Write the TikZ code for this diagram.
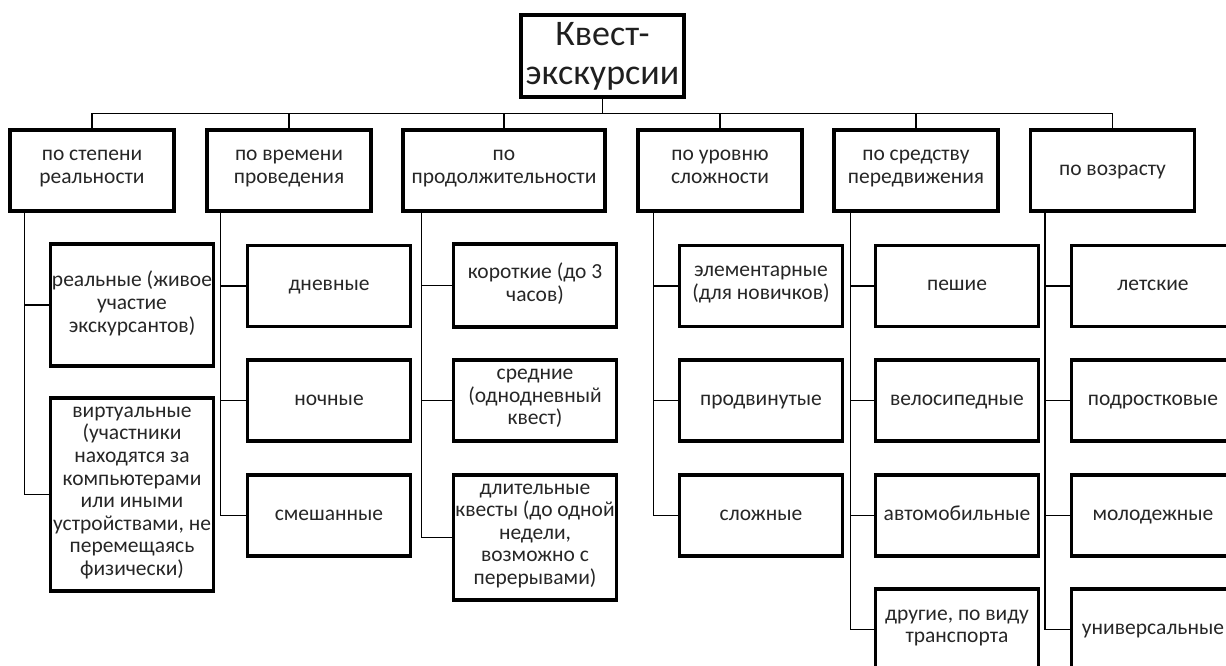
\documentclass[tikz,border=0pt]{standalone}
\usepackage{fontspec}
\setmainfont{Carlito}
\begin{document}
\begin{tikzpicture}[x=1pt, y=-1pt,
		q/.style = {rectangle, draw=black, line width=3.2pt, minimum width=163, minimum height=82, inner sep=1pt, align=center, text=black!88, font=\fontsize{36}{39}\selectfont},
		g/.style = {rectangle, draw=black, line width=3.2pt, minimum width=164, minimum height=81, inner sep=1pt, align=center, text=black!85, font=\fontsize{21.5}{23}\selectfont, execute at begin node=\strut, execute at end node=\strut},
		e/.style = {rectangle, draw=black, line width=3.2pt, minimum width=163, minimum height=81, inner sep=1pt, align=center, text=black!85, font=\fontsize{21.5}{22.6}\selectfont, execute at begin node=\strut, execute at end node=\strut},
		w/.style = {draw=black, line width=1.8pt}
		]
		\clip (0,0) rectangle (1226,666);
		
		%Nodes
		\node[q]	(kv)	at (602.5, 56)		{Квест-\\экскурсии};
		
		\node[g]	(p1)	at (92, 170.5)		{по степени\\реальности};
		\node[g]	(p2)	at (289, 170.5)		{по времени\\проведения};
		\node[g, minimum width=202]	(p3)	at (504, 170.5)	{по\\продолжительности};
		\node[g]	(p4)	at (720, 170.5)		{по уровню\\сложности};
		\node[g]	(p5)	at (916, 170.5)		{по средству\\передвижения};
		\node[g]	(p6)	at (1112.5, 170.5)	{по возрасту};
		
		\node[e, minimum height=122]	(v11)	at (132, 305)	{реальные (живое\\участие\\экскурсантов)};
		\node[e, minimum height=193]	(v12)	at (132, 494.5)	{виртуальные\\(участники\\находятся за\\компьютерами\\или иными\\устройствами, не\\перемещаясь\\физически)};
		
		\node[e]	(v21)	at (329, 286)		{дневные};
		\node[e]	(v22)	at (329, 400.5)		{ночные};
		\node[e]	(v23)	at (329, 515.5)		{смешанные};
		
		\node[e, minimum height=83]	(v31)	at (535, 285.5)	{короткие (до 3\\часов)};
		\node[e]	(v32)	at (535, 400.5)		{средние\\(однодневный\\квест)};
		\node[e, minimum height=125]	(v33)	at (535, 537.5)	{длительные\\квесты (до одной\\недели,\\возможно с\\перерывами)};
		
		\node[e]	(v41)	at (761, 286)		{элементарные\\(для новичков)};
		\node[e]	(v42)	at (761, 400.5)		{продвинутые};
		\node[e]	(v43)	at (761, 515.5)		{сложные};
		
		\node[e]	(v51)	at (957, 286)		{пешие};
		\node[e]	(v52)	at (957, 400.5)		{велосипедные};
		\node[e]	(v53)	at (957, 515.5)		{автомобильные};
		\node[e]	(v54)	at (957, 629.5)		{другие, по виду\\транспорта};
		
		\node[e]	(v61)	at (1153, 286)		{летские};
		\node[e]	(v62)	at (1153, 400.5)	{подростковые};
		\node[e]	(v63)	at (1153, 515.5)	{молодежные};
		\node[e]	(v64)	at (1153, 629.5)	{универсальные};
		
		%Lines
		\draw[w] (kv.south) -- ++(0,15) -| (p1.north);
		\draw[w] (kv.south) -- ++(0,15) -| (p2.north);
		\draw[w] (kv.south) -- ++(0,15) -| (p3.north);
		\draw[w] (kv.south) -- ++(0,15) -| (p4.north);
		\draw[w] (kv.south) -- ++(0,15) -| (p5.north);
		\draw[w] (kv.south) -- ++(0,15) -| (p6.north);
		
		\draw[w] ([xshift=16]p1.south west) |- (v11.west);
		\draw[w] ([xshift=16]p1.south west) |- (v12.west);
		
		\draw[w] ([xshift=15]p2.south west) |- (v21.west);
		\draw[w] ([xshift=15]p2.south west) |- (v22.west);
		\draw[w] ([xshift=15]p2.south west) |- (v23.west);
		
		\draw[w] ([xshift=20]p3.south west) |- (v31.west);
		\draw[w] ([xshift=20]p3.south west) |- (v32.west);
		\draw[w] ([xshift=20]p3.south west) |- (v33.west);
		
		\draw[w] ([xshift=17]p4.south west) |- (v41.west);
		\draw[w] ([xshift=17]p4.south west) |- (v42.west);
		\draw[w] ([xshift=17]p4.south west) |- (v43.west);
		
		\draw[w] ([xshift=18]p5.south west) |- (v51.west);
		\draw[w] ([xshift=18]p5.south west) |- (v52.west);
		\draw[w] ([xshift=18]p5.south west) |- (v53.west);
		\draw[w] ([xshift=18]p5.south west) |- (v54.west);
		
		\draw[w] ([xshift=16]p6.south west) |- (v61.west);
		\draw[w] ([xshift=16]p6.south west) |- (v62.west);
		\draw[w] ([xshift=16]p6.south west) |- (v63.west);
		\draw[w] ([xshift=16]p6.south west) |- (v64.west);
		
	\end{tikzpicture}
\end{document}
